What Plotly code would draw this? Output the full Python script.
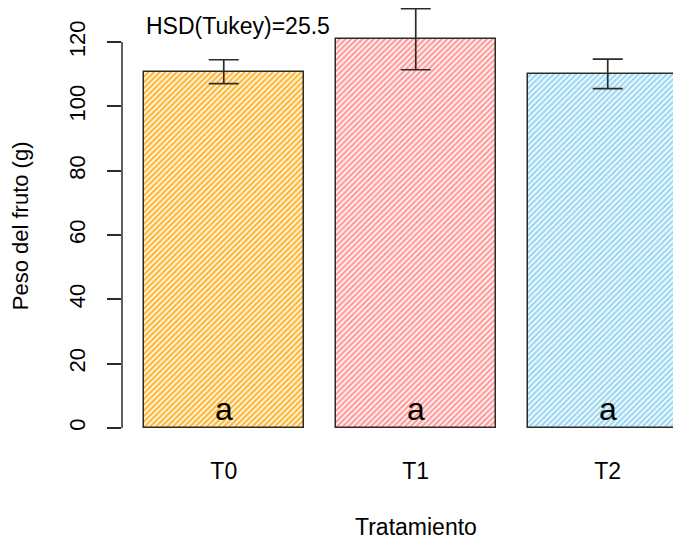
import plotly.graph_objects as go

categories = ["T0", "T1", "T2"]
means = [110.8, 120.9, 110.1]
errors = [3.7, 9.5, 4.6]
letters = ["a", "a", "a"]
hatch_colors = ["#FFB733", "#FF9C9C", "#9CD8F2"]
y_ticks = [0, 20, 40, 60, 80, 100, 120]
hsd_label = "HSD(Tukey)=25.5"

# R barplot positions: width 1, space 0.2
xpos = [0.7 + 1.2 * i for i in range(len(categories))]

FONT = "Liberation Sans, Arial, sans-serif"
FS = 23
DARK = "#2b2b2b"

fig = go.Figure()
fig.add_trace(go.Bar(
    x=xpos, y=means, width=1.0,
    marker=dict(
        color="white",
        line=dict(color=DARK, width=1.5),
        pattern=dict(shape="/", fgcolor=hatch_colors, bgcolor="white",
                     size=4, solidity=0.6, fillmode="replace"),
    ),
    error_y=dict(type="data", array=errors, visible=True,
                 color=DARK, thickness=1.7, width=15),
    showlegend=False,
    hoverinfo="skip",
))

# y axis line spanning only first to last tick (R style)
fig.add_shape(type="line", xref="paper", yref="y",
              x0=0, x1=0, y0=y_ticks[0], y1=y_ticks[-1],
              line=dict(color=DARK, width=1.5))

annotations = []
for xp, lt in zip(xpos, letters):
    annotations.append(dict(x=xp, y=6, xref="x", yref="y", text=lt,
                            showarrow=False, font=dict(size=32, color="black", family=FONT),
                            yanchor="middle"))
annotations.append(dict(x=0.79, y=125, xref="x", yref="y", text=hsd_label,
                        showarrow=False, font=dict(size=FS, color="black", family=FONT),
                        yanchor="middle"))
# axis titles
annotations.append(dict(x=1.9, y=-0.1915, xref="x", yref="paper", text="Tratamiento",
                        showarrow=False, font=dict(size=FS, color="black", family=FONT),
                        yanchor="middle"))
annotations.append(dict(x=-0.182, y=62.8, xref="paper", yref="y", text="Peso del fruto (g)",
                        textangle=-90, showarrow=False,
                        font=dict(size=FS - 1, color="black", family=FONT),
                        xanchor="center", yanchor="middle"))

fig.update_layout(
    width=673, height=535,
    margin=dict(l=114, r=0, t=0, b=99),
    paper_bgcolor="white", plot_bgcolor="white",
    font=dict(family=FONT, size=FS, color="black"),
    annotations=annotations,
    xaxis=dict(range=[0.064, 3.558], tickmode="array", tickvals=xpos,
               ticktext=categories, showgrid=False, zeroline=False,
               showline=False, ticks="", ticklabelstandoff=11,
               tickfont=dict(size=FS, family=FONT, color="black")),
    yaxis=dict(range=[-5.0, 130.6], tickmode="array", tickvals=y_ticks,
               ticktext=[str(v) for v in y_ticks],
               showgrid=False, zeroline=False, showline=False,
               ticks="outside", ticklen=14, tickwidth=1.5, tickcolor=DARK,
               tickangle=-90, ticklabelstandoff=13,
               tickfont=dict(size=22, family=FONT, color="black")),
    bargap=0,
)

fig.write_html("out.html")
